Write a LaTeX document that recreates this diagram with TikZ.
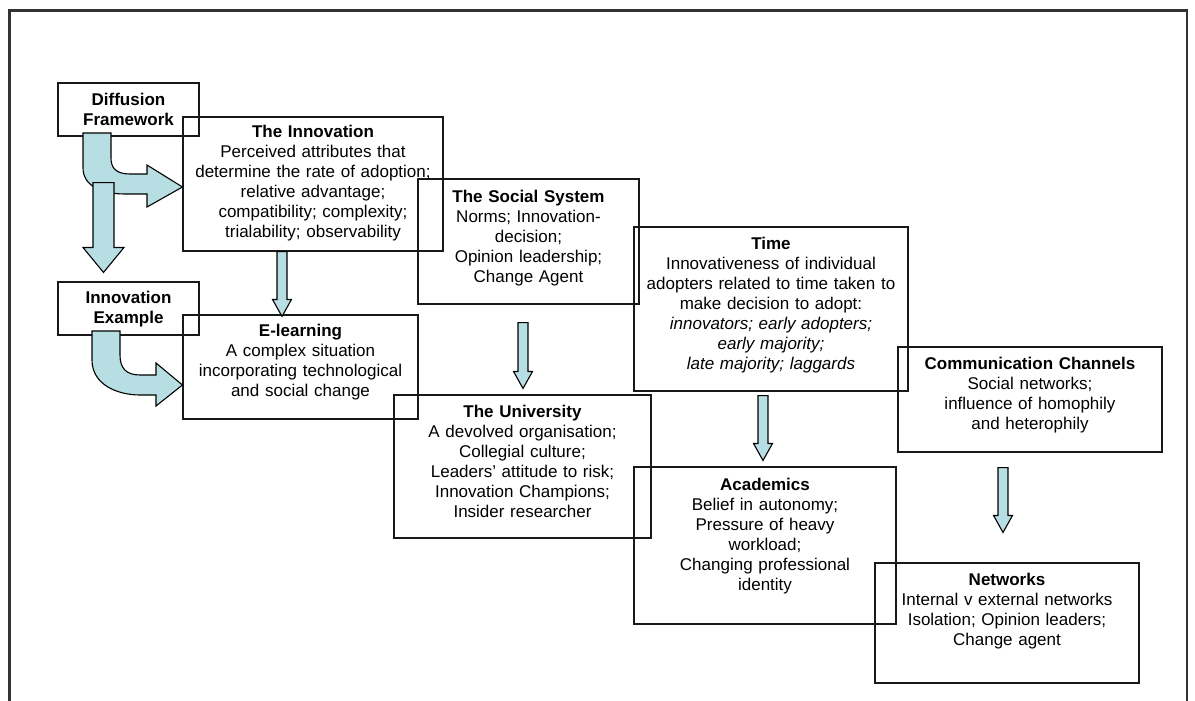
\documentclass[tikz,border=0pt]{standalone}
\usepackage{fontspec}
\setmainfont{Liberation Sans}
\usetikzlibrary{calc}
\definecolor{arrowblue}{RGB}{183,222,227}
\newcommand\blockarrow[5]{%
  \draw[barrow] let \p1=(#1), \p2=(#2) in
    (\x1-#3pt,\y1) -- (\x1-#3pt,\y2+#5pt) -- (\x1-#4pt,\y2+#5pt) -- (\x2,\y2)
    -- (\x1+#4pt,\y2+#5pt) -- (\x1+#3pt,\y2+#5pt) -- (\x1+#3pt,\y1) -- cycle;}
\begin{document}
\begin{tikzpicture}[x=1pt,y=-1pt,
  box/.style={draw=black!90, line width=1.1pt, inner sep=0pt},
  txt/.style={anchor=base, inner sep=0pt, align=center, font=\fontsize{17}{20}\selectfont},
  barrow/.style={draw=black, line width=1.1pt, fill=arrowblue, line join=miter}]
\useasboundingbox (0,0) rectangle (1195,701);
\clip (0,0) rectangle (1195,701);
% outer frame
\draw[line width=2.2pt, black!80] (9.5,740) -- (9.5,10.5) -- (1187,10.5) -- (1187,740);

% boxes
\node[box, minimum width=141pt, minimum height=53pt]  (df)   at (128.5,109.5) {};
\node[box, minimum width=260pt, minimum height=134pt] (inn)  at (313,184) {};
\node[box, minimum width=141pt, minimum height=53pt]  (ie)   at (128.5,308.5) {};
\node[box, minimum width=235pt, minimum height=104pt] (el)   at (300.5,367) {};
\node[box, minimum width=221pt, minimum height=125pt] (soc)  at (528.5,241.5) {};
\node[box, minimum width=257pt, minimum height=143pt] (uni)  at (522.5,466.5) {};
\node[box, minimum width=274pt, minimum height=164pt] (time) at (771,309) {};
\node[box, minimum width=262pt, minimum height=157pt] (acad) at (765,545.5) {};
\node[box, minimum width=264pt, minimum height=105pt] (comm) at (1030,399.5) {};
\node[box, minimum width=264pt, minimum height=120pt] (net)  at (1007,623) {};

% texts
\node[txt, text width=141pt] (df-t) at ($(df.north)+(0,23)$) {\textbf{Diffusion}\\\textbf{Framework}};
\node[txt, text width=260pt] (inn-t) at ($(inn.north)+(0,21)$) {\textbf{The Innovation}\\Perceived attributes that\\determine the rate of adoption;\\relative advantage;\\compatibility; complexity;\\trialability; observability};
\node[txt, text width=141pt] (ie-t) at ($(ie.north)+(0,22)$) {\textbf{Innovation}\\\textbf{Example}};
\node[txt, text width=235pt] (el-t) at ($(el.north)+(0,22)$) {\textbf{E-learning}\\A complex situation\\incorporating technological\\and social change};
\node[txt, text width=221pt] (soc-t) at ($(soc.north)+(0,24)$) {\textbf{The Social System}\\Norms; Innovation-\\decision;\\Opinion leadership;\\Change Agent};
\node[txt, text width=257pt] (uni-t) at ($(uni.north)+(0,23)$) {\textbf{The University}\\A devolved organisation;\\Collegial culture;\\Leaders’ attitude to risk;\\Innovation Champions;\\Insider researcher};
\node[txt, text width=274pt] (time-t) at ($(time.north)+(0,23)$) {\textbf{Time}\\Innovativeness of individual\\adopters related to time taken to\\make decision to adopt:\\\textit{innovators; early adopters;}\\\textit{early majority;}\\\textit{late majority; laggards}};
\node[txt, text width=262pt] (acad-t) at ($(acad.north)+(0,24)$) {\textbf{Academics}\\Belief in autonomy;\\Pressure of heavy\\workload;\\Changing professional\\identity};
\node[txt, text width=264pt] (comm-t) at ($(comm.north)+(0,23)$) {\textbf{Communication Channels}\\Social networks;\\influence of homophily\\and heterophily};
\node[txt, text width=264pt] (net-t) at ($(net.north)+(0,23)$) {\textbf{Networks}\\Internal v external networks\\Isolation; Opinion leaders;\\Change agent};

% curved arrow: Diffusion Framework -> The Innovation
\draw[barrow] (83,133) -- (83,168) .. controls (83,185) and (100,194) .. (125,194)
  -- (147,194) -- (147,207) -- (inn.west |- 0,187) -- (147,165) -- (147,174) -- (130,174)
  .. controls (116,174) and (111,168) .. (111,158) -- (111,133) -- cycle;
% straight arrow: Diffusion Framework -> Innovation Example
\blockarrow{[shift={(-25,46)}]df.south}{[shift={(-25,-9)}]ie.north}{10.5}{20.5}{25}
% curved arrow: Innovation Example -> E-learning
\draw[barrow] (92,331) -- (92,360) .. controls (92,385) and (118,395) .. (140,395)
  -- (156,395) -- (156,406) -- (el.west |- 0,385) -- (156,363) -- (156,375) -- (140,375)
  .. controls (126,375) and (120,368) .. (120,355) -- (120,331) -- cycle;

% straight arrows
\blockarrow{[shift={(-31,0)}]inn.south}{[shift={(-18.5,2)}]el.north}{5}{9.5}{17}
\blockarrow{[shift={(-5.5,18)}]soc.south}{[shift={(0.5,-6)}]uni.north}{5}{9.5}{17}
\blockarrow{[shift={(-8,4)}]time.south}{[shift={(-2,-6)}]acad.north}{5}{9.5}{17}
\blockarrow{[shift={(-27,15)}]comm.south}{[shift={(-4,-30)}]net.north}{5}{9.5}{17}
\end{tikzpicture}
\end{document}
